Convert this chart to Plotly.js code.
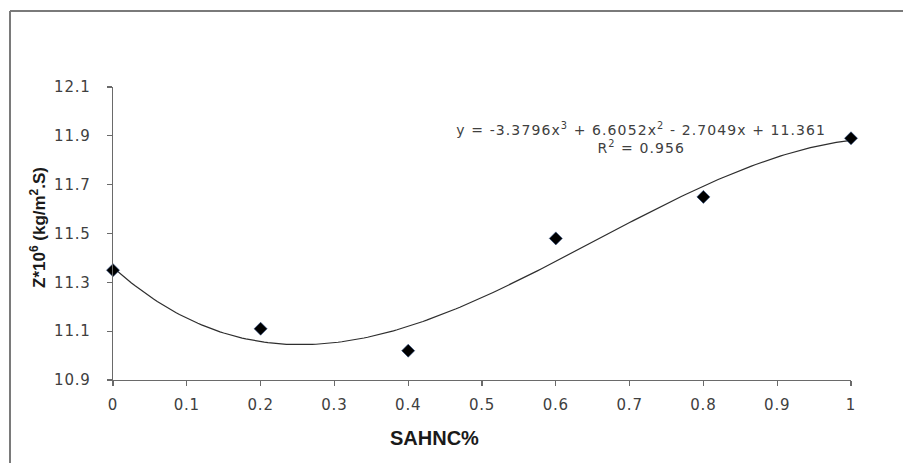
<!DOCTYPE html>
<html>
<head>
<meta charset="utf-8">
<script src="https://cdn.plot.ly/plotly-3.0.1.min.js"></script>
<style>
html,body{margin:0;padding:0;background:#fff;}
#chart{width:903px;height:463px;}
#chart .xtick text, #chart .ytick text{letter-spacing:0.8px;}
#chart .annotation.eq text{letter-spacing:1.1px;}
</style>
</head>
<body>
<div id="chart"></div>
<script>
// Data
const xValues = [0, 0.2, 0.4, 0.6, 0.8, 1];
const zValues = [11.35, 11.11, 11.02, 11.48, 11.65, 11.89];
// Trendline coefficients as printed on the chart (a3, a2, a1, a0)
const trendCoefs = [-3.3796, 6.6052, -2.7049, 11.361];
const equationText = "y = -3.3796x<sup>3</sup> + 6.6052x<sup>2</sup> - 2.7049x + 11.361";
const r2Text = "R<sup>2</sup> = 0.956";
const xTitle = "SAHNC%";
const yTitle = "Z*10<sup>6</sup> (kg/m<sup>2</sup>.S)";

// Trendline evaluated from the printed polynomial
const trendX = [];
const trendY = [];
for (let i = 0; i <= 200; i++) {
  const x = i / 200;
  trendX.push(x);
  trendY.push(((trendCoefs[0] * x + trendCoefs[1]) * x + trendCoefs[2]) * x + trendCoefs[3]);
}

const W = 903, H = 463;
const L = 113, R = 52, T = 87, B = 83;
const pw = W - L - R, ph = H - T - B;
const px = v => (v - L) / pw;
const py = v => (H - B - v) / ph;

const traces = [
  {
    x: trendX, y: trendY, type: 'scatter', mode: 'lines',
    line: {color: '#2e2e2e', width: 1.2}, hoverinfo: 'skip', cliponaxis: false
  },
  {
    x: xValues, y: zValues, type: 'scatter', mode: 'markers',
    marker: {symbol: 'diamond', size: 10, color: '#000000', line: {color: '#2a4a80', width: 0.6}},
    cliponaxis: false
  }
];

const tickFont = {family: 'DejaVu Sans, sans-serif', size: 15, color: '#404040'};

const layout = {
  width: W, height: H,
  margin: {l: L, r: R, t: T, b: B, pad: 0},
  paper_bgcolor: '#ffffff', plot_bgcolor: '#ffffff',
  showlegend: false,
  xaxis: {
    range: [0, 1], dtick: 0.1, tick0: 0,
    showgrid: false, zeroline: false,
    showline: true, linecolor: '#6a6a6a', linewidth: 1.3,
    ticks: 'outside', ticklen: 5, tickcolor: '#6a6a6a', tickwidth: 1.3,
    tickfont: tickFont, ticklabelstandoff: 6
  },
  yaxis: {
    range: [10.9, 12.1], dtick: 0.2, tick0: 10.9, tickformat: '.1f',
    showgrid: false, zeroline: false,
    showline: true, linecolor: '#6a6a6a', linewidth: 1.3,
    ticks: 'outside', ticklen: 5, tickcolor: '#6a6a6a', tickwidth: 1.3,
    tickfont: tickFont, ticklabelstandoff: 13
  },
  shapes: [
    {type: 'line', xref: 'paper', yref: 'paper', x0: px(10), x1: px(10), y0: py(11), y1: py(470),
     line: {color: '#7a7a7a', width: 2}},
    {type: 'line', xref: 'paper', yref: 'paper', x0: px(10), x1: px(910), y0: py(11), y1: py(11),
     line: {color: '#7a7a7a', width: 2}}
  ],
  annotations: [
    {xref: 'paper', yref: 'paper', x: px(641), y: py(138), xanchor: 'center', yanchor: 'middle',
     text: equationText + '<br>' + r2Text, showarrow: false, align: 'center', name: 'eq',
     font: {family: 'DejaVu Sans, sans-serif', size: 14, color: '#404040'}},
    {xref: 'paper', yref: 'paper', x: px(434), y: py(438), xanchor: 'center', yanchor: 'middle',
     text: '<b>' + xTitle + '</b>', showarrow: false,
     font: {family: 'Liberation Sans, Arial, sans-serif', size: 20, color: '#1a1a1a'}},
    {xref: 'paper', yref: 'paper', x: px(38), y: py(228), xanchor: 'center', yanchor: 'middle',
     text: '<b>' + yTitle + '</b>', showarrow: false, textangle: -90,
     font: {family: 'Liberation Sans, Arial, sans-serif', size: 17, color: '#1a1a1a'}}
  ]
};

Plotly.newPlot('chart', traces, layout, {displayModeBar: false, staticPlot: true}).then(() => {
  const ann = document.querySelectorAll('#chart .annotation');
  if (ann.length) ann[0].classList.add('eq');
});
</script>
</body>
</html>
